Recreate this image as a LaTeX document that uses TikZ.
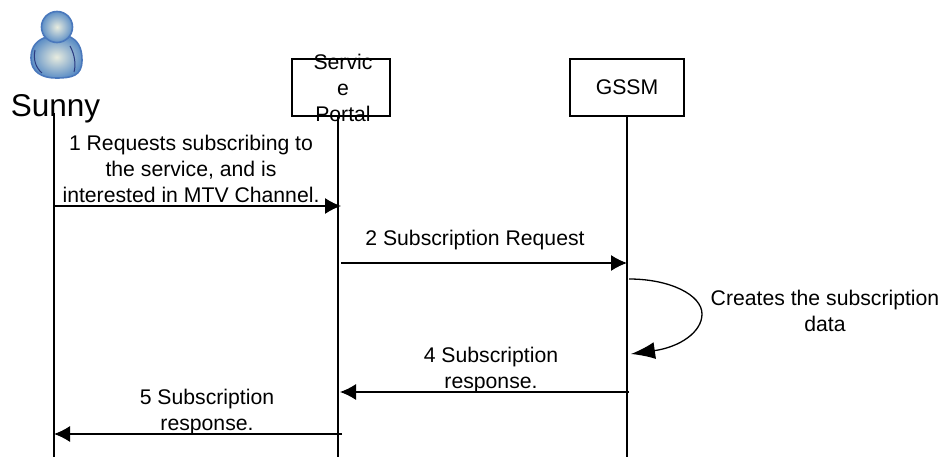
\documentclass[tikz,border=0pt]{standalone}
\usepackage{fontspec}
\setmainfont{Liberation Sans}
\usetikzlibrary{arrows.meta}
\tikzset{
    box/.style={draw, line width=1.2pt, minimum height=57pt, inner sep=0pt},
    lifeline/.style={draw, line width=1.3pt},
    msg/.style={line width=1.3pt, -{Latex[length=16pt,width=16pt]}, shorten >=-2pt},
    selfmsg/.style={line width=1.3pt, -{Latex[length=24pt,width=17pt]}},
    label/.style={align=center, font=\fontsize{21.2}{26}\selectfont, inner sep=0pt},
    skin/.style={draw=personedge, line width=1.6pt, inner color=personlight, outer color=personblue}
}
\definecolor{personedge}{HTML}{4A78BC}
\definecolor{personlight}{HTML}{E8ECDF}
\definecolor{personblue}{HTML}{5F90C6}
\definecolor{personline}{HTML}{2A3A80}
\begin{document}
\begin{tikzpicture}[x=1pt, y=-1pt]
    \useasboundingbox (0,0) rectangle (940,457);

    % Dibujar la persona
    \draw[skin] (44,38) .. controls (34,42) and (31,50) .. (31,58)
        .. controls (31,72) and (42,78) .. (56,78)
        .. controls (72,78) and (82,76) .. (82,60)
        .. controls (82,48) and (78,40) .. (68,36) -- cycle;
    \draw[personline, line width=1pt] (35,50) .. controls (33,60) and (36,68) .. (42,73);
    \draw[personline, line width=1pt] (70,46) .. controls (75,55) and (76,65) .. (74,72);
    \draw[personline, line width=1pt] (43,35) .. controls (50,41) and (62,41) .. (69,35);
    \draw[skin] (57,27) circle (15.5);
    \node[label, font=\fontsize{31.5}{34}\selectfont] (sunny) at (55.5,109) {Sunny};

    % Cajas de arriba
    \node[box, minimum width=98pt] (portal) at (341,87.5) {};
    \node[box, minimum width=114pt] (gssm) at (627,87.5) {};
    \node[label] (portaltext) at (343,87.5) {Servic\\e\\Portal};
    \node[label] (gssmtext) at (627,87.5) {GSSM};

    % Lineas de vida
    \coordinate (sunnytop) at (54,113);
    \coordinate (sunnyend) at (54,457);
    \coordinate (portaltop) at (338,116);
    \coordinate (portalend) at (338,457);
    \coordinate (gssmtop) at (627,116);
    \coordinate (gssmend) at (627,457);
    \foreach \who in {sunny, portal, gssm} {
        \path[lifeline] (\who top) -- (\who end);
    }

    % Extremos de los mensajes
    \coordinate (m1a) at (54,206);
    \coordinate (m1b) at (339,206);
    \coordinate (m2a) at (341,263);
    \coordinate (m2b) at (625,263);
    \coordinate (m3a) at (629,279);
    \coordinate (m3b) at (631,354);
    \coordinate (m4a) at (629,392);
    \coordinate (m4b) at (342,392);
    \coordinate (m5a) at (342,434);
    \coordinate (m5b) at (56,434);

    % Mensajes
    \draw[msg] (m1a) -- (m1b);
    \draw[msg] (m2a) -- (m2b);
    \draw[selfmsg] (m3a) .. controls (670,279) and (702,295) .. (702,314)
        .. controls (702,332) and (680,347) .. (m3b);
    \draw[msg] (m4a) -- (m4b);
    \draw[msg] (m5a) -- (m5b);

    % Etiquetas
    \node[label] (m1) at (191,169) {1 Requests subscribing to\\the service, and is\\interested in MTV Channel.};
    \node[label] (m2) at (475,240) {2 Subscription Request};
    \node[label] (m3) at (825,311) {Creates the subscription\\data};
    \node[label] (m4) at (491,370) {4 Subscription\\response.};
    \node[label] (m5) at (207,412) {5 Subscription\\response.};
\end{tikzpicture}
\end{document}
